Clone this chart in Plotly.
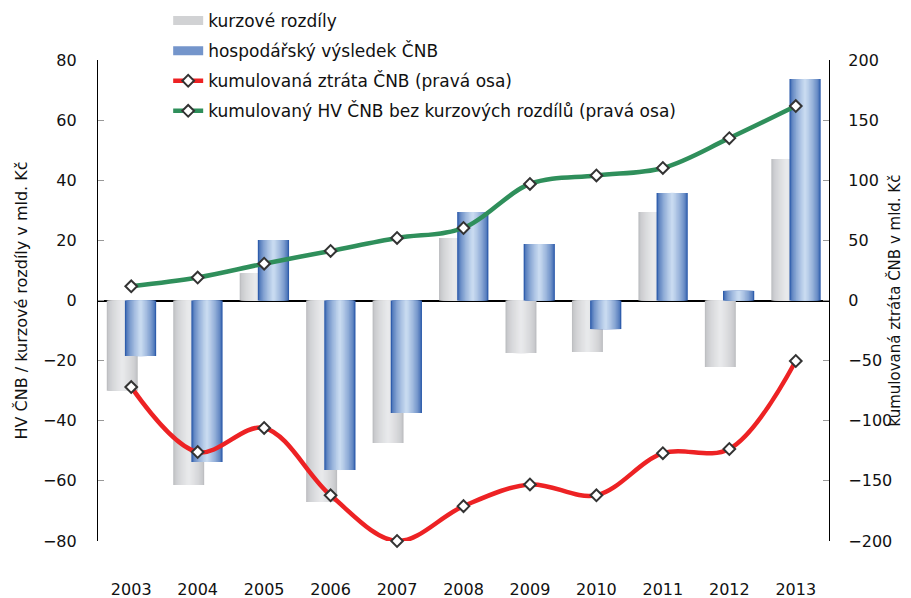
#!/usr/bin/env python3

import plotly.graph_objects as go

# Data
years = ["2003", "2004", "2005", "2006", "2007", "2008", "2009", "2010", "2011", "2012", "2013"]
kurzove_rozdily = [-30.0, -61.4, 9.1, -67.0, -47.4, 20.8, -17.5, -17.1, 29.4, -22.1, 47.1]
hv_cnb = [-18.5, -53.7, 20.1, -56.4, -37.4, 29.4, 18.8, -9.5, 35.8, 3.2, 73.7]
kum_ztrata = [-72, -126, -106, -162, -200, -171, -153, -162, -127, -123.5, -50.3]
kum_hv_bez_kurz = [11.8, 19.1, 30.6, 41.2, 52.0, 60.3, 96.9, 104.0, 110.2, 135.0, 161.7]

FONT = "DejaVu Sans"
N_LAYERS = 12
GREY_EDGE, GREY_LIGHT = (190, 191, 194), (232, 233, 235)
BLUE_EDGE, BLUE_LIGHT = (47, 93, 172), (200, 218, 240)


def mix(c1, c2, t):
    return "rgb(%d,%d,%d)" % tuple(round(a + (b - a) * t) for a, b in zip(c1, c2))


def gradient_bars(fig, values, center, width, edge, light, name):
    # nested bars, narrowing toward the light center, to fake a horizontal gradient
    for k in range(N_LAYERS):
        w = width * (1 - k / N_LAYERS)
        t = (k / (N_LAYERS - 1)) ** 0.6
        fig.add_trace(go.Bar(
            x=years, y=values,
            width=w, offset=center - w / 2,
            marker=dict(color=mix(edge, light, t), line=dict(width=0)),
            name=name, legendgroup=name, showlegend=False,
            hoverinfo="skip" if k else None,
        ))
    # legend entry: a wide band like the original's swatch
    fig.add_trace(go.Scatter(
        x=years, y=[None] * len(years), mode="lines",
        line=dict(color=mix(edge, light, 0.45), width=9),
        name=name, legendgroup=name,
    ))


fig = go.Figure()

gradient_bars(fig, kurzove_rozdily, -0.135, 0.466, GREY_EDGE, GREY_LIGHT, "kurzové rozdíly")
gradient_bars(fig, hv_cnb, 0.14, 0.47, BLUE_EDGE, BLUE_LIGHT, "hospodářský výsledek ČNB")

marker = dict(symbol="diamond", size=9, color="white", line=dict(color="#333333", width=2))
fig.add_trace(go.Scatter(
    x=years, y=kum_ztrata, yaxis="y2",
    mode="lines+markers", line=dict(color="#ed2224", width=4.5, shape="spline"),
    marker=marker, cliponaxis=False,
    name="kumulovaná ztráta ČNB (pravá osa)", legendgroup="red",
))
fig.add_trace(go.Scatter(
    x=years, y=kum_hv_bez_kurz, yaxis="y2",
    mode="lines+markers", line=dict(color="#2f8f5b", width=4.5, shape="spline"),
    marker=marker,
    name="kumulovaný HV ČNB bez kurzových rozdílů (pravá osa)", legendgroup="green",
))

# the page body has an 8px margin, so the figure is sized 8px smaller
fig.update_layout(
    width=903, height=590,
    margin=dict(l=90, r=82, t=52, b=57, autoexpand=False),
    barmode="overlay",
    paper_bgcolor="white", plot_bgcolor="white",
    font=dict(family=FONT, size=16, color="#111111"),
    showlegend=True,
    legend=dict(
        x=0.096, y=1.1185, xanchor="left", yanchor="top",
        traceorder="grouped", tracegroupgap=5,
        font=dict(size=17), bgcolor="rgba(0,0,0,0)",
    ),
    xaxis=dict(
        range=[-0.5, 10.5], showline=False, showgrid=False, zeroline=False,
        ticks="", ticklabelstandoff=37, tickfont=dict(size=16), tickangle=0,
        automargin=False,
    ),
    yaxis=dict(
        range=[-80, 80], dtick=20, showgrid=False,
        showline=True, linecolor="black", linewidth=1.2,
        ticks="inside", ticklen=6, tickcolor="#999999",
        zeroline=True, zerolinecolor="black", zerolinewidth=1.5,
        tickfont=dict(size=16), ticklabelstandoff=17, automargin=False,
    ),
    yaxis2=dict(
        range=[-200, 200], dtick=50, overlaying="y", side="right",
        showgrid=False, zeroline=False,
        showline=True, linecolor="black", linewidth=1.2,
        ticks="inside", ticklen=6, tickcolor="#999999",
        tickfont=dict(size=16), ticklabelstandoff=15, automargin=False,
    ),
    annotations=[
        dict(text="HV ČNB / kurzové rozdíly v mld. Kč", textangle=-90,
             xref="paper", yref="paper", x=-0.104, y=0.5, xanchor="center", yanchor="middle",
             showarrow=False, font=dict(size=16)),
        dict(text="kumulovaná ztráta ČNB v mld. Kč", textangle=-90,
             xref="paper", yref="paper", x=1.089, y=0.5, xanchor="center", yanchor="middle",
             showarrow=False, font=dict(size=15)),
    ],
)

fig.write_html("out.html")
